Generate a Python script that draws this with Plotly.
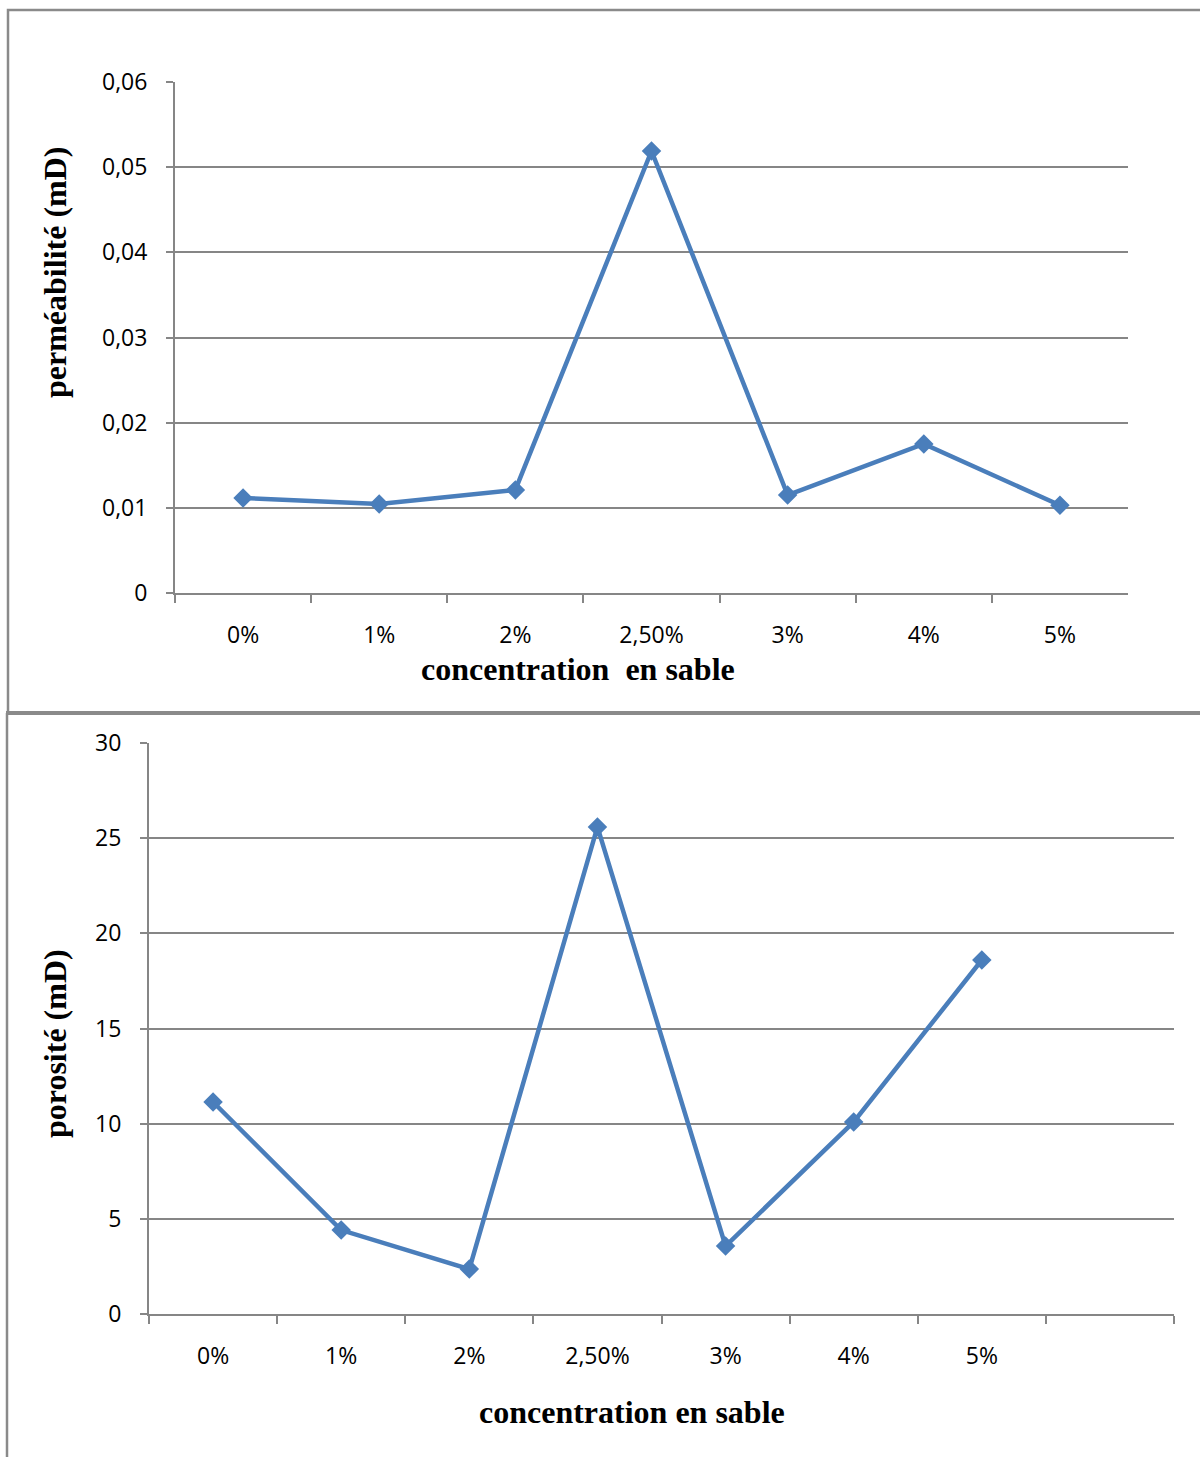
import plotly.graph_objects as go

cats_top = ["0%", "1%", "2%", "2,50%", "3%", "4%", "5%"]
perm = [0.01115, 0.01045, 0.0121, 0.0519, 0.0115, 0.0175, 0.0103]
perm_ticks = [0, 0.01, 0.02, 0.03, 0.04, 0.05, 0.06]
perm_ticktext = ["0", "0,01", "0,02", "0,03", "0,04", "0,05", "0,06"]

cats_bot = ["0%", "1%", "2%", "2,50%", "3%", "4%", "5%", " "]
poro = [11.14, 4.41, 2.36, 25.59, 3.57, 10.09, 18.6]

W, H = 1200, 1457
LINE = "#4a7ebb"
GRID = "#868686"
TICKFONT = dict(family="Open Sans", size=23, color="#000000")
TITLEFONT = dict(family="Liberation Serif", size=32, color="#000000")

def px(x):
    return x / W

def py(y):
    return 1 - y / H

fig = go.Figure()
fig.add_trace(go.Scatter(x=cats_top, y=perm, mode="lines+markers", xaxis="x", yaxis="y",
                         line=dict(color=LINE, width=4.5),
                         marker=dict(symbol="diamond", size=15, color=LINE),
                         showlegend=False))
fig.add_trace(go.Scatter(x=cats_bot[:len(poro)], y=poro, mode="lines+markers", xaxis="x2", yaxis="y2",
                         line=dict(color=LINE, width=4.5),
                         marker=dict(symbol="diamond", size=15, color=LINE),
                         showlegend=False))

xcommon = dict(type="category", showgrid=False, showline=True, linecolor=GRID, linewidth=2,
               ticks="outside", ticklen=8, tickwidth=2, tickcolor=GRID, tickson="boundaries",
               tickfont=TICKFONT, ticklabelstandoff=20, zeroline=False, fixedrange=True,
               automargin=False)
ycommon = dict(showgrid=True, gridcolor=GRID, gridwidth=2, showline=True, linecolor=GRID, linewidth=2,
               ticks="outside", ticklen=7, tickwidth=2, tickcolor=GRID, tickfont=TICKFONT,
               ticklabelstandoff=14, zeroline=False, fixedrange=True, automargin=False)

fig.update_layout(
    template="none",
    width=W, height=H, margin=dict(l=0, r=0, t=0, b=0, pad=0), autosize=False,
    paper_bgcolor="white", plot_bgcolor="white",
    xaxis=dict(domain=[px(175), px(1128)], anchor="y", categoryorder="array",
               categoryarray=cats_top, range=[-0.5, 6.5], **xcommon),
    yaxis=dict(domain=[py(593), py(82)], anchor="x", range=[0, 0.06],
               tickmode="array", tickvals=perm_ticks, ticktext=perm_ticktext, **ycommon),
    xaxis2=dict(domain=[px(149), px(1174)], anchor="y2", categoryorder="array",
                categoryarray=cats_bot, range=[-0.5, 7.5], **xcommon),
    yaxis2=dict(domain=[py(1314), py(743)], anchor="x2", range=[0, 30], dtick=5, **ycommon),
    separators=", ",
)

shapes = [
    dict(type="rect", xref="paper", yref="paper", x0=px(8), x1=px(1210), y0=py(713), y1=py(10),
         line=dict(color="#8a8a8a", width=2.5)),
    dict(type="line", xref="paper", yref="paper", x0=px(7), x1=px(7), y0=py(713), y1=py(1470),
         line=dict(color="#8a8a8a", width=2.5)),
    dict(type="line", xref="paper", yref="paper", x0=px(6), x1=px(1210), y0=py(713), y1=py(713),
         line=dict(color="#8a8a8a", width=4)),
]
fig.update_layout(shapes=shapes)

annotations = [
    dict(text="<b>concentration  en sable</b>", x=px(578), y=py(669), xref="paper", yref="paper",
         showarrow=False, font=TITLEFONT, xanchor="center", yanchor="middle"),
    dict(text="<b>perméabilité (mD)</b>", x=px(55), y=py(273), xref="paper", yref="paper",
         showarrow=False, font=TITLEFONT, textangle=-90, xanchor="center", yanchor="middle"),
    dict(text="<b>concentration en sable</b>", x=px(632), y=py(1412), xref="paper", yref="paper",
         showarrow=False, font=TITLEFONT, xanchor="center", yanchor="middle"),
    dict(text="<b>porosité (mD)</b>", x=px(55), y=py(1043), xref="paper", yref="paper",
         showarrow=False, font=TITLEFONT, textangle=-90, xanchor="center", yanchor="middle"),
]
fig.update_layout(annotations=annotations)

fig.write_html("out.html")
